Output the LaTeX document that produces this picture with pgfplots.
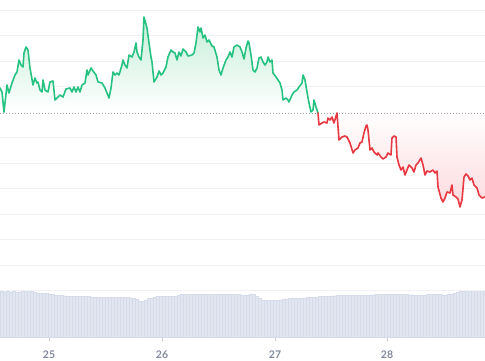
\documentclass[border=0pt]{standalone}
\usepackage{fontspec}
\setmainfont{Lato}
\usepackage{pgfplots}
\usepackage{pgfplotstable}
\pgfplotsset{compat=1.18}
\definecolor{upgreen}{RGB}{38,194,129}
\definecolor{downred}{RGB}{232,57,67}
\definecolor{gridc}{RGB}{241,242,245}
\definecolor{volc}{RGB}{226,230,241}
\definecolor{vole}{RGB}{214,219,234}
\definecolor{labc}{RGB}{128,136,155}
\definecolor{fillg}{RGB}{196,238,216}
\definecolor{fillr}{RGB}{252,218,222}

\pgfplotstableread{
x y
0 25
2 21
4 1
7 28
9 20
12 30
15 38
17 41
19 53
21 48
23 46
24 60
26 66
28 63
30 45
33 28
35 35
37 30
38 31
40 23
42 21
43 33
45 23
48 21
50 31
53 32
55 13
57 15
60 18
63 16
66 24
70 25
72 21
74 26
76 21
78 26
80 21
82 28
85 30
87 43
88 38
91 45
93 42
96 38
98 31
102 30
105 25
107 20
109 15
111 25
113 41
115 38
117 40
119 38
122 48
123 53
125 48
127 45
129 58
132 56
134 61
136 70
137 61
139 56
141 53
143 73
144 96
147 85
149 70
151 56
152 51
154 31
157 36
159 42
161 38
163 40
166 46
168 56
171 63
173 61
175 60
177 53
179 61
181 57
183 64
186 61
188 57
192 58
194 60
196 70
198 86
200 81
201 85
203 75
205 78
207 71
209 73
212 67
214 66
217 56
219 43
221 38
223 45
226 53
228 56
230 61
232 56
234 66
237 68
240 66
242 61
244 54
246 65
248 72
249 70
251 58
253 43
255 41
257 45
259 55
261 56
263 51
265 48
267 51
268 56
270 51
272 53
273 40
276 36
278 33
280 30
282 23
283 13
286 15
288 13
289 11
292 18
294 21
297 23
299 26
302 30
303 38
305 33
307 21
309 10
311 1
313 3
314 13
316 6
318 0
319 -12
322 -10
324 -9
327 -10
328 -5
330 -7
332 -4
334 -10
337 0
339 -27
342 -24
345 -23
347 -24
350 -30
353 -40
355 -37
358 -35
360 -30
362 -29
364 -20
366 -13
367 -12
368 -17
370 -37
372 -35
374 -39
377 -42
378 -40
381 -44
383 -46
386 -44
388 -40
391 -42
392 -25
394 -23
396 -24
397 -44
399 -52
401 -57
403 -54
405 -62
407 -57
409 -52
412 -55
414 -59
416 -52
418 -50
421 -45
423 -52
425 -62
427 -58
430 -59
433 -57
435 -60
437 -58
438 -74
441 -85
443 -89
445 -85
447 -79
450 -80
452 -72
453 -82
456 -84
458 -86
460 -94
462 -87
464 -64
466 -61
468 -63
470 -67
472 -65
474 -72
477 -75
479 -82
482 -85
485 -84
}\pricetable

\pgfplotstableread{
x h
1.5 45.5
4.5 45.3
7.5 45.5
10.5 45.2
13.5 45.4
16.5 45.0
19.5 45.3
22.5 45.8
25.5 46.6
28.5 47.0
31.5 46.0
34.5 45.0
37.5 44.2
40.5 43.8
43.5 43.6
46.5 43.5
49.5 43.2
52.5 42.5
55.5 42.0
58.5 41.8
61.5 41.5
64.5 41.3
67.5 41.0
70.5 41.0
73.5 40.8
76.5 40.8
79.5 40.6
82.5 40.5
85.5 40.4
88.5 40.4
91.5 40.2
94.5 40.0
97.5 40.0
100.5 39.8
103.5 39.8
106.5 39.7
109.5 39.7
112.5 39.6
115.5 39.6
118.5 39.8
121.5 39.6
124.5 39.5
127.5 39.5
130.5 39.3
133.5 38.8
136.5 37.8
139.5 36.2
142.5 35.5
145.5 37.0
148.5 38.5
151.5 39.2
154.5 40.0
157.5 40.6
160.5 40.8
163.5 41.0
166.5 41.0
169.5 41.0
172.5 41.0
175.5 41.2
178.5 41.5
181.5 42.5
184.5 42.8
187.5 42.8
190.5 42.6
193.5 42.8
196.5 42.6
199.5 42.6
202.5 42.8
205.5 42.7
208.5 42.5
211.5 42.6
214.5 42.8
217.5 42.9
220.5 42.8
223.5 42.7
226.5 42.9
229.5 43.0
232.5 42.8
235.5 42.6
238.5 42.4
241.5 42.2
244.5 42.0
247.5 42.2
250.5 42.4
253.5 42.6
256.5 41.0
259.5 38.5
262.5 37.0
265.5 36.5
268.5 36.4
271.5 36.6
274.5 36.8
277.5 37.0
280.5 37.2
283.5 37.6
286.5 38.2
289.5 38.8
292.5 39.2
295.5 39.2
298.5 39.0
301.5 39.1
304.5 39.2
307.5 39.4
310.5 39.8
313.5 40.0
316.5 40.2
319.5 40.4
322.5 40.5
325.5 40.8
328.5 41.0
331.5 41.2
334.5 41.3
337.5 41.5
340.5 41.6
343.5 41.5
346.5 41.4
349.5 41.6
352.5 41.8
355.5 41.6
358.5 41.5
361.5 41.6
364.5 41.8
367.5 42.0
370.5 42.1
373.5 42.3
376.5 42.5
379.5 42.7
382.5 43.0
385.5 43.2
388.5 43.1
391.5 43.0
394.5 43.2
397.5 43.1
400.5 42.8
403.5 42.6
406.5 42.4
409.5 42.2
412.5 42.3
415.5 42.0
418.5 41.9
421.5 42.0
424.5 42.2
427.5 42.4
430.5 42.8
433.5 43.0
436.5 43.0
439.5 42.6
442.5 42.3
445.5 42.2
448.5 42.5
451.5 43.0
454.5 43.5
457.5 44.5
460.5 45.5
463.5 46.3
466.5 46.7
469.5 46.8
472.5 46.8
475.5 46.7
478.5 46.5
481.5 46.4
484.5 46.3
}\voltable

\begin{document}
\begin{tikzpicture}
% volume axis
\begin{axis}[
  at={(0,23pt)}, anchor=south west,
  x=1pt, y=1pt,
  xmin=0, xmax=485, ymin=0, ymax=337,
  axis line style={draw=none},
  ytick=\empty,
  xtick={49,162,275,387},
  xticklabels={25,26,27,28},
  xtick pos=left,
  tick align=outside,
  major tick length=4pt,
  tick style={draw=labc!45, line width=0.8pt},
  xticklabel style={font=\fontsize{10.5}{12}\selectfont\bfseries, text=labc, yshift=-6pt},
]
\addplot[ybar, bar width=2.7pt, bar shift=0pt, fill=volc, draw=vole, line width=0.25pt] table[x=x, y=h] {\voltable};
\end{axis}
% price axis
\begin{axis}[
  at={(0,0)}, anchor=south west,
  x=1pt, y=1pt,
  xmin=0, xmax=485, ymin=-247, ymax=113,
  axis line style={draw=none},
  xtick=\empty,
  ytick={103,77.5,52,26.5,-24.5,-50,-75.5,-101,-126.5,-152,-177.5},
  yticklabels={},
  yticklabel style={inner sep=0pt, outer sep=0pt},
  major tick length=0pt,
  ymajorgrids,
  grid style={draw=gridc, line width=1pt},
]
\addplot[draw=none, top color=fillg, bottom color=fillr, middle color=white] table[x=x, y=y] {\pricetable} \closedcycle;
\addplot[draw=gray!75, line width=0.8pt, dash pattern=on 0.8pt off 2.2pt] coordinates {(0,0) (485,0)};
\addplot[upgreen, line width=1.6pt, line join=round, line cap=round, restrict x to domain=0:318] table[x=x, y=y] {\pricetable};
\addplot[downred, line width=1.6pt, line join=round, line cap=round, restrict x to domain=318:485] table[x=x, y=y] {\pricetable};
\end{axis}
\pgfresetboundingbox
\path[use as bounding box] (0,0) rectangle (485pt,360pt);
\end{tikzpicture}
\end{document}
